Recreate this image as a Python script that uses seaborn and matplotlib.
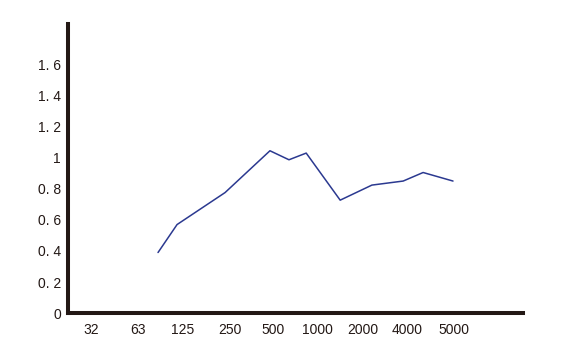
import matplotlib
matplotlib.use("Agg")
import matplotlib.pyplot as plt
import seaborn as sns
import pandas as pd

# Data (x in tick-index units of the frequency axis)
x_pos = [1.48, 1.90, 2.96, 3.95, 4.37, 4.75, 5.50, 6.20, 6.89, 7.33, 7.99]
y_val = [0.39, 0.57, 0.776, 1.045, 0.987, 1.03, 0.727, 0.824, 0.85, 0.905, 0.85]

x_tick_labels = ["32", "63", "125", "250", "500", "1000", "2000", "4000", "5000"]
x_tick_pos = [0, 1.04, 2.03, 3.07, 4.02, 4.99, 6.01, 6.98, 8.0]
y_ticks = [0, 0.2, 0.4, 0.6, 0.8, 1.0, 1.2, 1.4, 1.6]
y_tick_labels = ["0", "0. 2", "0. 4", "0. 6", "0. 8", "1", "1. 2", "1. 4", "1. 6"]

sns.set_style("white")
plt.rcParams["font.family"] = ["Liberation Sans", "DejaVu Sans"]

df = pd.DataFrame({"x": x_pos, "y": y_val})

fig = plt.figure(figsize=(5.75, 3.55), dpi=100)
ax = fig.add_axes([0.118, 0.118, 0.792, 0.814])
sns.lineplot(data=df, x="x", y="y", ax=ax, color="#2B3990", linewidth=1.1)

ax.set_xlim(-0.51, 9.54)
ax.set_ylim(0, 1.86)
ax.set_xticks(x_tick_pos)
ax.set_xticklabels(x_tick_labels, fontsize=10, color="#231815")
ax.set_yticks(y_ticks)
ax.set_yticklabels(y_tick_labels, fontsize=10, color="#231815")
ax.tick_params(axis="both", length=0)
ax.tick_params(axis="y", pad=5)
ax.tick_params(axis="x", pad=7)
ax.set_xlabel("")
ax.set_ylabel("")

for s in ["top", "right"]:
    ax.spines[s].set_visible(False)
for s in ["left", "bottom"]:
    ax.spines[s].set_linewidth(2.9)
    ax.spines[s].set_color("#231815")
    ax.spines[s].set_capstyle("projecting")

fig.savefig("out.png", dpi=100)
